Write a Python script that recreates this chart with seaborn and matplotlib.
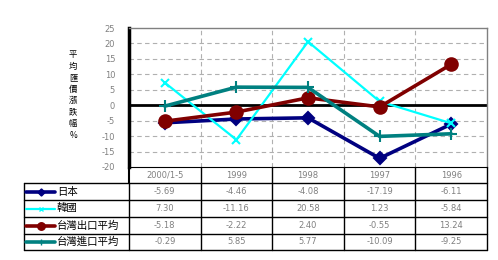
import matplotlib
matplotlib.use("Agg")
import matplotlib.pyplot as plt
import seaborn as sns
import pandas as pd
from matplotlib.lines import Line2D

categories = ["2000/1-5", "1999", "1998", "1997", "1996"]
series_names = ["日本", "韓國", "台灣出口平均", "台灣進口平均"]
japan = [-5.69, -4.46, -4.08, -17.19, -6.11]
korea = [7.30, -11.16, 20.58, 1.23, -5.84]
tw_export = [-5.18, -2.22, 2.40, -0.55, 13.24]
tw_import = [-0.29, 5.85, 5.77, -10.09, -9.25]
yticks = [-20, -15, -10, -5, 0, 5, 10, 15, 20, 25]
ylabel = "平均匯價漲跌幅%"

values = [japan, korea, tw_export, tw_import]
colors = ["#000080", "#00FFFF", "#800000", "#008080"]
markers = ["D", "x", "o", "+"]
msizes = [6, 6, 9, 8]
lws = [2.6, 1.6, 2.6, 2.6]

sns.set_style("white")
plt.rcParams['font.family'] = ['Noto Sans CJK TC', 'DejaVu Sans']

W, H = 498, 260
fig = plt.figure(figsize=(W / 100, H / 100), dpi=100)
L, R, T, B = 129, 487, 28, 167
ax = fig.add_axes([L / W, 1 - B / H, (R - L) / W, (B - T) / H])

rows = []
for name, vals in zip(series_names, values):
    for i, (c, v) in enumerate(zip(categories, vals)):
        rows.append({"series": name, "x": i, "value": v})
df = pd.DataFrame(rows)

for k, name in enumerate(series_names):
    sub = df[df["series"] == name]
    sns.lineplot(data=sub, x="x", y="value", ax=ax, color=colors[k], lw=lws[k],
                 marker=markers[k], markersize=msizes[k], markeredgecolor=colors[k],
                 markeredgewidth=1.5, legend=False, zorder=3 + k)

ax.set_xlim(-0.5, len(categories) - 0.5)
ax.set_ylim(-20, 25)
ax.set_yticks(yticks)
ax.set_yticklabels([str(t) if t >= 0 else "-" + str(-t) for t in yticks],
                   fontsize=6, color="#808080", family="DejaVu Sans")
ax.tick_params(axis="y", direction="in", length=3, width=1.5, color="black", pad=10)
ax.set_xticks([])
ax.set_xlabel("")
ax.set_ylabel("")
for y in yticks[1:-1]:
    if y != 0:
        ax.axhline(y, color="#b0b0b0", lw=0.8, ls=(0, (4, 3)), zorder=1)
for x in [0.5, 1.5, 2.5, 3.5]:
    ax.axvline(x, color="#b0b0b0", lw=0.8, ls=(0, (4, 3)), zorder=1)
ax.axhline(0, color="black", lw=2, zorder=2)
ax.spines["left"].set_color("black")
ax.spines["left"].set_linewidth(2.5)
ax.spines["top"].set_color("#808080")
ax.spines["right"].set_color("#808080")
ax.spines["bottom"].set_color("black")
ax.spines["top"].set_linewidth(1)
ax.spines["right"].set_linewidth(1)

# Y label (vertical stacked)
fig.text(73 / W, 1 - 95 / H, "\n".join(ylabel), ha="center", va="center",
         fontsize=6, linespacing=1.35, color="black")

# Table
def fx(px):
    return px / W

def fy(py):
    return 1 - py / H

def line(x0, y0, x1, y1, lw=1.0):
    fig.add_artist(Line2D([fx(x0), fx(x1)], [fy(y0), fy(y1)], color="black", lw=lw,
                          transform=fig.transFigure))

row_edges = [167, 183, 200, 217, 234, 250]
col_edges = [L + i * (R - L) / len(categories) for i in range(len(categories) + 1)]
leg_left = 24

# header row
line(L, row_edges[0], L, row_edges[1], lw=1.5)
for cx in col_edges[1:]:
    line(cx, row_edges[0], cx, row_edges[-1], lw=1.0)
for i, c in enumerate(categories):
    xc = (col_edges[i] + col_edges[i + 1]) / 2
    fig.text(fx(xc), fy((row_edges[0] + row_edges[1]) / 2), c, ha="center", va="center",
             fontsize=6, color="#808080", family="DejaVu Sans")
# body rows
for ye in row_edges[1:]:
    line(leg_left, ye, R, ye, lw=1.0)
line(leg_left, row_edges[1], leg_left, row_edges[-1], lw=1.0)
line(L, row_edges[1], L, row_edges[-1], lw=1.0)

for k, name in enumerate(series_names):
    yc = (row_edges[k + 1] + row_edges[k + 2]) / 2
    fig.add_artist(Line2D([fx(26), fx(55)], [fy(yc), fy(yc)], color=colors[k], lw=lws[k],
                          transform=fig.transFigure))
    fig.add_artist(Line2D([fx(40.5)], [fy(yc)], color=colors[k], marker=markers[k],
                          markersize=msizes[k] * 0.6, markeredgecolor=colors[k],
                          transform=fig.transFigure))
    fig.text(fx(57), fy(yc), name, ha="left", va="center", fontsize=7.5, color="black")
    for i, v in enumerate(values[k]):
        xc = (col_edges[i] + col_edges[i + 1]) / 2
        fig.text(fx(xc), fy(yc), f"{v:.2f}", ha="center", va="center",
                 fontsize=6, color="#808080", family="DejaVu Sans")

fig.savefig("out.png", dpi=100)
